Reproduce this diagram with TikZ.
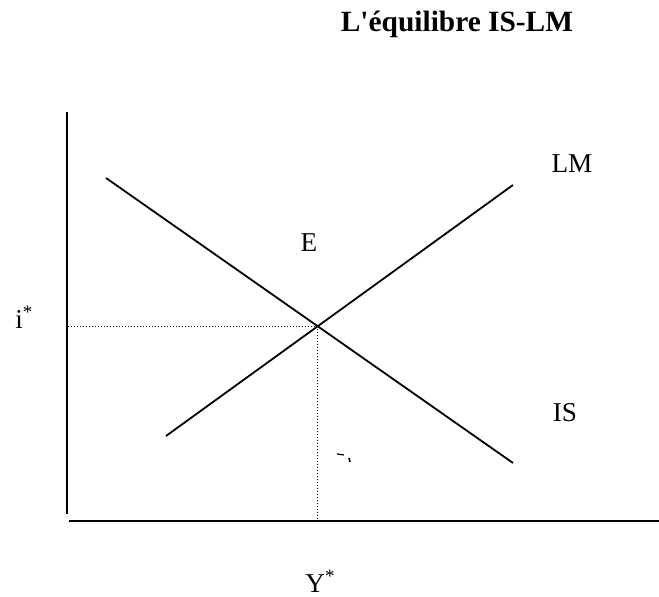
\documentclass[tikz,border=0pt]{standalone}
\usepackage{fontspec}
\setmainfont{Liberation Serif}
\usetikzlibrary{positioning,calc}

\begin{document}
\begin{tikzpicture}[
    x=0.5pt, y=-0.5pt,
    axis/.style  = {line width=1pt, draw=black},
    curve/.style = {line width=0.9pt, draw=black},
    guide/.style = {line width=0.7pt, dash pattern=on 0.6pt off 0.9pt},
    lbl/.style   = {font=\fontsize{13.6}{16}\selectfont, inner sep=0pt},
    head/.style  = {font=\fontsize{14.7}{17}\selectfont\bfseries, inner sep=0pt},
]
\useasboundingbox (0,0) rectangle (659,597);

% title
\node[head, anchor=base] (T) at (457,32) {L\textquotesingle équilibre IS-LM};

% axes
\coordinate (Ytop) at (67,112);
\coordinate (Ybot) at (67,514);
\coordinate (Xleft) at (69,521);
\coordinate (Xright) at (659,521);
\draw[axis] (Ytop) -- (Ybot);
\draw[axis] (Xleft) -- (Xright);

% IS and LM curves
\coordinate (IS1) at (106,178);
\coordinate (IS2) at (513,463);
\coordinate (LM1) at (166,436);
\coordinate (LM2) at (513,185);
\draw[curve] (IS1) -- (IS2);
\draw[curve] (LM1) -- (LM2);
\coordinate (Eq) at (intersection of IS1--IS2 and LM1--LM2);

% dotted guides to the axes
\draw[guide] (Eq) -- (Eq -| Ytop);
\draw[guide] (Eq) -- (Eq |- Xleft);

% labels
\node[lbl, anchor=base] (LM) at (572,173) {LM};
\node[lbl, anchor=base] (IS) at (565,422) {IS};
\node[lbl, anchor=base] (E) at (309,252) {E};
\node[lbl, anchor=base west] (istar) at (15,329) {i\textsuperscript{*}};
\node[lbl, anchor=base west] (Ystar) at (305,593) {Y\textsuperscript{*}};

% speck
\draw[line width=0.6pt] (337,454) -- (344,455);
\draw[line width=0.8pt] (349,458) -- (350,462);
\end{tikzpicture}
\end{document}
